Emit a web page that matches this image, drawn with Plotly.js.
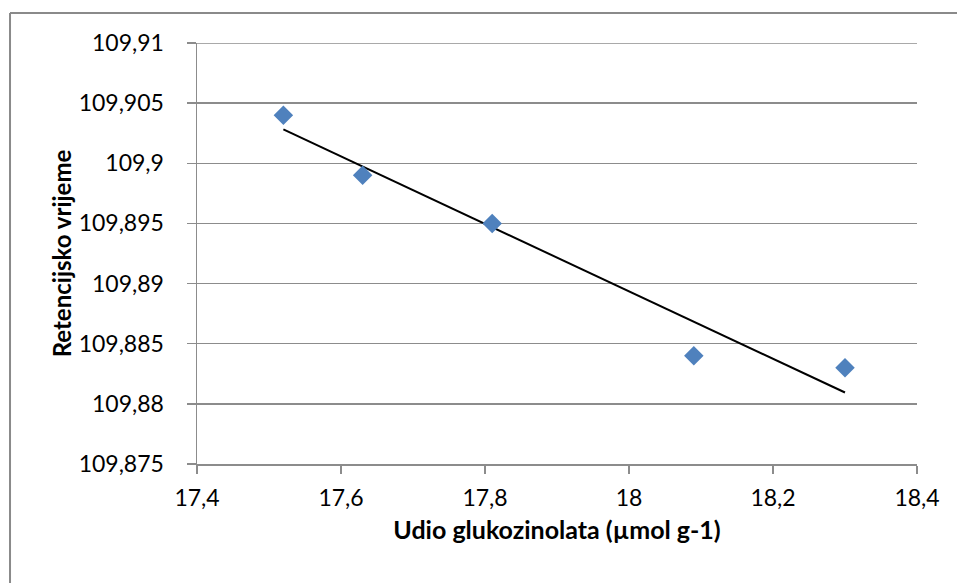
<!DOCTYPE html>
<html>
<head>
<meta charset="utf-8">
<script src="https://cdn.plot.ly/plotly-3.0.1.min.js"></script>
<style>
html,body{margin:0;padding:0;background:#fff;}
#chart{width:957px;height:583px;}
</style>
</head>
<body>
<div id="chart"></div>
<script>
// Data
var xValues = [17.52, 17.63, 17.81, 18.09, 18.30];
var yValues = [109.904, 109.899, 109.895, 109.884, 109.883];

var xTickVals = [17.4, 17.6, 17.8, 18.0, 18.2, 18.4];
var xTickText = ["17,4", "17,6", "17,8", "18", "18,2", "18,4"];
var yTickVals = [109.875, 109.88, 109.885, 109.89, 109.895, 109.9, 109.905, 109.91];
var yTickText = ["109,875", "109,88", "109,885", "109,89", "109,895", "109,9", "109,905", "109,91"];

var xTitle = "Udio glukozinolata (µmol g-1)";
var yTitle = "Retencijsko vrijeme";

// Linear trendline (least squares) computed from the data
var n = xValues.length;
var mx = xValues.reduce(function(a,b){return a+b;},0)/n;
var my = yValues.reduce(function(a,b){return a+b;},0)/n;
var sxy = 0, sxx = 0;
for (var i=0;i<n;i++){ sxy += (xValues[i]-mx)*(yValues[i]-my); sxx += (xValues[i]-mx)*(xValues[i]-mx); }
var slope = sxy/sxx, intercept = my - slope*mx;
var xMin = Math.min.apply(null, xValues), xMax = Math.max.apply(null, xValues);
var trendX = [xMin, xMax];
var trendY = trendX.map(function(x){return intercept + slope*x;});

var yLo = yTickVals[0], yHi = yTickVals[yTickVals.length-1];
var xLo = xTickVals[0], xHi = xTickVals[xTickVals.length-1];

var font = "Lato, 'Open Sans', sans-serif";
var gridColor = "#8c8c8c";
var borderColor = "#8a8a8a";

var traces = [
  {
    x: trendX, y: trendY, type: "scatter", mode: "lines",
    line: {color: "#000000", width: 2},
    hoverinfo: "skip", showlegend: false
  },
  {
    x: xValues, y: yValues, type: "scatter", mode: "markers",
    marker: {symbol: "diamond", size: 15, color: "#4f81bd", line: {width: 0}},
    showlegend: false
  }
];

var layout = {
  width: 957, height: 583,
  margin: {l: 197, r: 40, t: 43, b: 119, pad: 0},
  paper_bgcolor: "#ffffff", plot_bgcolor: "#ffffff",
  font: {family: font, size: 23, color: "#000000"},
  showlegend: false,
  xaxis: {
    range: [xLo, xHi],
    tickmode: "array", tickvals: xTickVals, ticktext: xTickText,
    showgrid: false, zeroline: false,
    showline: true, linecolor: gridColor, linewidth: 1.5,
    ticks: "outside", ticklen: 8, tickwidth: 1.5, tickcolor: gridColor,
    tickfont: {family: font, size: 23, color: "#000"},
    ticklabelstandoff: 5,
    title: {text: xTitle, font: {family: font, size: 25, color: "#000", weight: "bold"}, standoff: 11}
  },
  yaxis: {
    range: [yLo, yHi],
    tickmode: "array", tickvals: yTickVals, ticktext: yTickText,
    showgrid: true, gridcolor: gridColor, gridwidth: 1.5,
    zeroline: false,
    showline: true, linecolor: gridColor, linewidth: 1.5,
    ticks: "outside", ticklen: 9, tickwidth: 1.5, tickcolor: gridColor,
    tickfont: {family: font, size: 23, color: "#000"},
    ticklabelstandoff: 18,
    title: {text: yTitle, font: {family: font, size: 24, color: "#000", weight: "bold"}, standoff: 0}
  },
  shapes: [
    // top gridline (at the upper range limit)
    {type: "line", xref: "paper", yref: "y",
     x0: 0, x1: 1, y0: yHi, y1: yHi,
     line: {color: gridColor, width: 1.5}, layer: "below"},
    // chart-area border (left and top edges visible)
    {type: "line", xref: "paper", yref: "paper",
     x0: -0.2597, x1: -0.2597, y0: -0.4, y1: 1.0713,
     line: {color: borderColor, width: 2}, layer: "below"},
    {type: "line", xref: "paper", yref: "paper",
     x0: -0.2597, x1: 1.2, y0: 1.0713, y1: 1.0713,
     line: {color: borderColor, width: 2}, layer: "below"}
  ]
};

Plotly.newPlot("chart", traces, layout, {displayModeBar: false, staticPlot: true});
</script>
</body>
</html>
